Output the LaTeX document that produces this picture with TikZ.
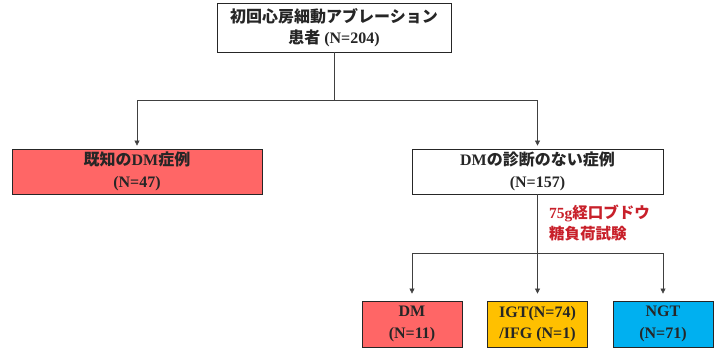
\documentclass[tikz,border=0pt]{standalone}
\usepackage{fontspec}
\setmainfont{Liberation Serif}
\newfontfamily\cjk{Noto Sans CJK JP}
\usetikzlibrary{arrows.meta}
\definecolor{boxred}{HTML}{FF6666}
\definecolor{boxorange}{HTML}{FFC000}
\definecolor{boxblue}{HTML}{00B0F0}
\definecolor{labelred}{HTML}{C8202A}
\begin{document}
\begin{tikzpicture}[x=1pt,y=-1pt,
  box/.style={draw=black!85, line width=0.8pt, inner sep=0pt, align=center,
    text=black!85, font=\fontsize{16}{21.5}\selectfont\bfseries},
  conn/.style={line width=0.6pt, draw=black!75},
  arr/.style={conn, -{Triangle[length=5pt,width=5pt]}}]
\useasboundingbox (0,0) rectangle (716,348);
\node[box, minimum width=234, minimum height=49] (top) at (334,27.5)
  {{\cjk 初回心房細動アブレーション}\\{\cjk 患者} (N=204)};
\node[box, fill=boxred, minimum width=250, minimum height=45] (known) at (137,171.5)
  {{\cjk 既知の}DM{\cjk 症例}\\(N=47)};
\node[box, minimum width=251, minimum height=45] (nodm) at (537.5,171.5)
  {DM{\cjk の診断のない症例}\\(N=157)};
\node[box, fill=boxred, minimum width=100, minimum height=46] (dm) at (412,324)
  {DM\\(N=11)};
\node[box, fill=boxorange, minimum width=100, minimum height=46] (igt) at (537.5,324)
  {IGT(N=74)\\/IFG (N=1)};
\node[box, fill=boxblue, minimum width=100, minimum height=46] (ngt) at (663,324)
  {NGT\\(N=71)};
\node[anchor=west, align=left, inner sep=0pt, text=labelred,
  font=\fontsize{15.5}{21}\selectfont\bfseries] (ogtt) at (549,223)
  {75g{\cjk 経口ブドウ}\\{\cjk 糖負荷試験}};
% connectors top level
\coordinate (j1) at (top.south |- 0,100);
\coordinate (jl) at (known.north |- 0,100);
\coordinate (jr) at (nodm.north |- 0,100);
\draw[conn] (top.south) -- (j1);
\draw[conn] (jl) -- (jr);
\draw[arr, shorten >=3pt] (jl) -- (known.north);
\draw[arr, shorten >=3pt] (jr) -- (nodm.north);
% connectors bottom level
\coordinate (j2) at (nodm.south |- 0,253);
\coordinate (jdm) at (dm.north |- 0,253);
\coordinate (jigt) at (igt.north |- 0,253);
\coordinate (jngt) at (ngt.north |- 0,253);
\draw[conn] (nodm.south) -- (j2);
\draw[conn] (jdm) -- (jngt);
\draw[arr, shorten >=7pt] (jdm) -- (dm.north);
\draw[arr, shorten >=7pt] (jigt) -- (igt.north);
\draw[arr, shorten >=7pt] (jngt) -- (ngt.north);
\end{tikzpicture}
\end{document}
